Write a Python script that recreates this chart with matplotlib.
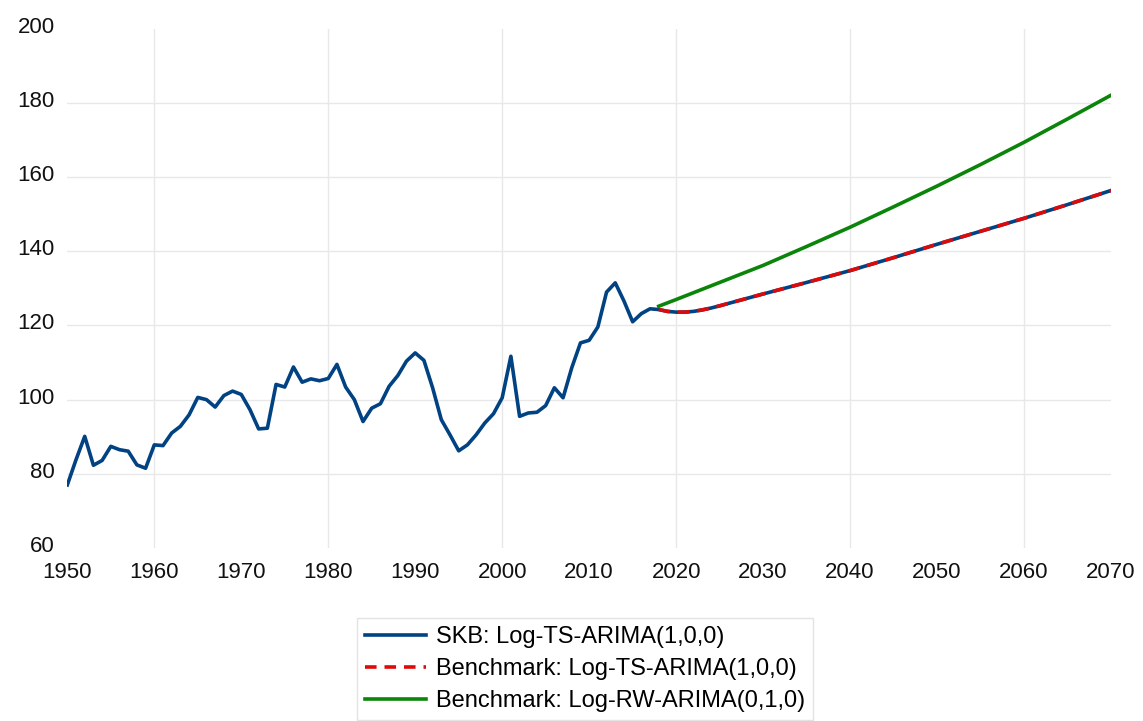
import numpy as np
import matplotlib
matplotlib.use("Agg")
import matplotlib.pyplot as plt
import matplotlib.transforms as mtransforms

# Historical series (SKB), 1950-2018
hist_years = list(range(1950, 2019))
hist_values = [
    77.0, 83.8, 90.1, 82.3, 83.6, 87.4, 86.5, 86.1, 82.4, 81.5,
    87.8, 87.6, 91.0, 92.8, 95.9, 100.6, 100.0, 98.0, 101.1, 102.3,
    101.4, 97.3, 92.1, 92.3, 104.1, 103.4, 108.8, 104.7, 105.6, 105.1,
    105.7, 109.5, 103.4, 100.0, 94.1, 97.7, 98.9, 103.6, 106.5, 110.4,
    112.6, 110.6, 103.2, 94.6, 90.5, 86.2, 87.8, 90.5, 93.7, 96.2,
    100.5, 111.7, 95.5, 96.4, 96.6, 98.4, 103.2, 100.5, 108.6, 115.3,
    116.0, 119.6, 129.0, 131.5, 126.6, 121.0, 123.2, 124.5, 124.3,
]

# Forecast: Log-TS-ARIMA(1,0,0) (SKB and benchmark coincide)
ts_years = [2018, 2019, 2020, 2021, 2022, 2023, 2024, 2025, 2030,
            2035, 2040, 2045, 2050, 2055, 2060, 2065, 2070]
ts_values = [124.3, 123.8, 123.6, 123.6, 123.8, 124.2, 124.7, 125.3, 128.5,
             131.6, 134.8, 138.3, 141.9, 145.4, 148.9, 152.6, 156.4]

# Forecast: Log-RW-ARIMA(0,1,0)
rw_years = [2018, 2020, 2025, 2030, 2035, 2040, 2045, 2050, 2055, 2060, 2065, 2070]
rw_values = [125.2, 127.0, 131.6, 136.2, 141.3, 146.5, 152.0, 157.6, 163.4, 169.4, 175.7, 182.1]

labels = ["SKB: Log-TS-ARIMA(1,0,0)",
          "Benchmark: Log-TS-ARIMA(1,0,0)",
          "Benchmark: Log-RW-ARIMA(0,1,0)"]

plt.rcParams['font.family'] = ['Liberation Sans', 'DejaVu Sans']

blue = "#004282"
red = "#dd0a0a"
green = "#0a850a"

fig = plt.figure(figsize=(11.43, 7.21), dpi=100)
ax = fig.add_axes([0.0589, 0.240, 0.9131, 0.720])

skb_years = hist_years + ts_years[1:]
skb_values = hist_values + ts_values[1:]
l1, = ax.plot(skb_years, skb_values, color=blue, lw=2.6, solid_joinstyle='round', zorder=3)
l2, = ax.plot(ts_years, ts_values, color=red, lw=2.6, dashes=(3.2, 2.2), zorder=4)
l3, = ax.plot(rw_years, rw_values, color=green, lw=2.6, zorder=3)

ax.set_xlim(1950, 2070)
ax.set_ylim(60, 200)
ax.set_xticks(range(1950, 2071, 10))
ax.set_yticks(range(60, 201, 20))

# grid: vertical every 20 years, horizontal 80..180
for x in range(1960, 2061, 20):
    ax.axvline(x, color="#e8e8e8", lw=1, zorder=0)
for y in range(80, 181, 20):
    ax.axhline(y, color="#e8e8e8", lw=1, zorder=0)

for s in ax.spines.values():
    s.set_visible(False)
ax.tick_params(length=0, labelsize=16, colors="#111111")
ax.tick_params(axis='y', pad=9)
ax.tick_params(axis='x', pad=10)
off = mtransforms.ScaledTranslation(0, 4 / 100, fig.dpi_scale_trans)
for lab in ax.get_yticklabels():
    lab.set_transform(lab.get_transform() + off)

leg = fig.legend([l1, l2, l3], labels, loc="upper left",
                 bbox_to_anchor=(0.312, 0.143), borderaxespad=0, fontsize=17,
                 frameon=True, fancybox=False, handlelength=2.6,
                 handletextpad=0.4, labelspacing=0.42, borderpad=0.35)
leg.get_frame().set_edgecolor("#dddddd")
leg.get_frame().set_linewidth(1)

fig.savefig("out.png", dpi=100)
